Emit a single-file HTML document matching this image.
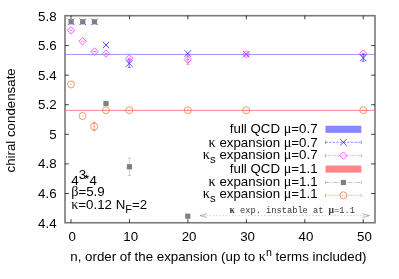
<!DOCTYPE html><html><head><meta charset="utf-8"><style>html,body{margin:0;padding:0;background:#fff;}svg{display:block;will-change:transform}text{font-family:"Liberation Sans",sans-serif;font-size:13.3px;fill:#000}.g{font-family:"Liberation Serif",serif;font-size:14.2px}.m{font-family:"Liberation Mono",monospace;font-size:8.7px}</style></head><body>
<svg width="399" height="279" viewBox="0 0 399 279">
<rect width="399" height="279" fill="#fff"/>
<line x1="65.0" x2="375.0" y1="54.42" y2="54.42" stroke="#9090ff" stroke-width="0.95"/>
<line x1="65.0" x2="375.0" y1="110.35" y2="110.35" stroke="#ff8585" stroke-width="1"/>
<rect x="65.0" y="15.7" width="310.0" height="207.05" fill="none" stroke="#787878" stroke-width="1.6"/>
<path d="M65.0 45.58h3.9M375.0 45.58h-3.9M65.0 75.16h3.9M375.0 75.16h-3.9M65.0 104.74h3.9M375.0 104.74h-3.9M65.0 134.31h3.9M375.0 134.31h-3.9M65.0 163.89h3.9M375.0 163.89h-3.9M65.0 193.47h3.9M375.0 193.47h-3.9M71.00 222.75v-3.6M71.00 15.7v3.6M129.45 222.75v-3.6M129.45 15.7v3.6M187.90 222.75v-3.6M187.90 15.7v3.6M246.35 222.75v-3.6M246.35 15.7v3.6M304.80 222.75v-3.6M304.80 15.7v3.6M363.25 222.75v-3.6M363.25 15.7v3.6" stroke="#000" stroke-width="0.75" fill="none"/>
<text x="56.6" y="20.55" text-anchor="end">5.8</text>
<text x="56.6" y="50.13" text-anchor="end">5.6</text>
<text x="56.6" y="79.71" text-anchor="end">5.4</text>
<text x="56.6" y="109.29" text-anchor="end">5.2</text>
<text x="56.6" y="138.86" text-anchor="end">5</text>
<text x="56.6" y="168.44" text-anchor="end">4.8</text>
<text x="56.6" y="198.02" text-anchor="end">4.6</text>
<text x="56.6" y="227.60" text-anchor="end">4.4</text>
<text x="72.20" y="241.3" text-anchor="middle">0</text>
<text x="130.65" y="241.3" text-anchor="middle">10</text>
<text x="189.10" y="241.3" text-anchor="middle">20</text>
<text x="247.55" y="241.3" text-anchor="middle">30</text>
<text x="306.00" y="241.3" text-anchor="middle">40</text>
<text x="364.45" y="241.3" text-anchor="middle">50</text>
<text x="70.3" y="261.1">n, order of the expansion (up to <tspan class="g">κ</tspan><tspan dy="-5.4" font-size="10.6px">n</tspan><tspan dy="5.4"> terms included)</tspan></text>
<text transform="translate(15.2,120.4) rotate(-90)" text-anchor="middle">chiral condensate</text>
<text x="71.2" y="184.5">4</text><text x="78.7" y="178.6" font-size="10.3px">3</text><text x="89.6" y="184.5">4</text>
<path d="M86.7 176.9L86.70 174.80M86.7 176.9L88.70 176.25M86.7 176.9L87.93 178.60M86.7 176.9L85.47 178.60M86.7 176.9L84.70 176.25" stroke="#000" stroke-width="1.0" fill="none"/>
<text x="71.2" y="196.1"><tspan class="g">β</tspan>=5.9</text>
<text x="71.2" y="208.6"><tspan class="g">κ</tspan>=0.12 N<tspan dy="4.2" font-size="11px">F</tspan><tspan dy="-4.2">=2</tspan></text>
<text x="317.6" y="132.9" text-anchor="end">full QCD <tspan class="g">μ</tspan>=0.7</text>
<text x="317.6" y="146.6" text-anchor="end"><tspan class="g">κ</tspan> expansion <tspan class="g">μ</tspan>=0.7</text>
<text x="317.6" y="158.75" text-anchor="end"><tspan class="g">κ</tspan><tspan dy="4.4" font-size="11.4px">s</tspan><tspan dy="-4.4"> expansion </tspan><tspan class="g">μ</tspan>=0.7</text>
<text x="317.6" y="172.7" text-anchor="end">full QCD <tspan class="g">μ</tspan>=1.1</text>
<text x="317.6" y="185.7" text-anchor="end"><tspan class="g">κ</tspan> expansion <tspan class="g">μ</tspan>=1.1</text>
<text x="317.6" y="197.5" text-anchor="end"><tspan class="g">κ</tspan><tspan dy="4.4" font-size="11.4px">s</tspan><tspan dy="-4.4"> expansion </tspan><tspan class="g">μ</tspan>=1.1</text>
<rect x="325.5" y="125.75" width="35.80000000000001" height="7.1" fill="#8787ff"/>
<rect x="325.5" y="165.55" width="35.80000000000001" height="7.1" fill="#ff8787"/>
<path d="M325.5 142.3H361.3" stroke="#2020ff" stroke-width="0.6" stroke-dasharray="2.4 1.2" fill="none" opacity="0.85"/><path d="M325.5 140.70000000000002v3.2M361.3 140.70000000000002v3.2" stroke="#2020ff" stroke-width="0.6" fill="none" opacity="0.85"/>
<path d="M340.15 139.05L346.65 145.55M340.15 145.55L346.65 139.05" stroke="#2020ff" stroke-width="0.8" fill="none"/>
<path d="M325.5 155.6H361.3" stroke="#ff30ff" stroke-width="0.6" stroke-dasharray="1.2 1.2" fill="none" opacity="0.85"/><path d="M325.5 154.0v3.2M361.3 154.0v3.2" stroke="#ff30ff" stroke-width="0.6" fill="none" opacity="0.85"/>
<path d="M343.4 151.95L347.04999999999995 155.6L343.4 159.25L339.75 155.6Z" stroke="#ff30ff" stroke-width="0.8" fill="none"/>
<path d="M325.5 182.5H361.3" stroke="#808080" stroke-width="0.6" stroke-dasharray="4 1.3 1 1.3" fill="none" opacity="0.85"/><path d="M325.5 180.9v3.2M361.3 180.9v3.2" stroke="#808080" stroke-width="0.6" fill="none" opacity="0.85"/>
<rect x="340.79999999999995" y="179.9" width="5.2" height="5.2" fill="#808080"/>
<path d="M325.5 195.3H361.3" stroke="#ff6a30" stroke-width="0.6" stroke-dasharray="1.6 1.2" fill="none" opacity="0.85"/><path d="M325.5 193.70000000000002v3.2M361.3 193.70000000000002v3.2" stroke="#ff6a30" stroke-width="0.6" fill="none" opacity="0.85"/>
<circle cx="343.4" cy="195.3" r="3.5" stroke="#ff6a30" stroke-width="0.72" fill="none"/>
<path d="M129.2 59.5V67.5M127.69999999999999 59.5h3.0M127.69999999999999 67.5h3.0" stroke="#2020ff" stroke-width="0.6" fill="none" opacity="1"/>
<path d="M363.3 54.7V61.3M361.8 54.7h3.0M361.8 61.3h3.0" stroke="#2020ff" stroke-width="0.6" fill="none" opacity="1"/>
<path d="M67.85 18.55L74.35 25.05M67.85 25.05L74.35 18.55" stroke="#2020ff" stroke-width="0.8" fill="none"/>
<path d="M79.5 18.55L86.0 25.05M79.5 25.05L86.0 18.55" stroke="#2020ff" stroke-width="0.8" fill="none"/>
<path d="M91.25 18.55L97.75 25.05M91.25 25.05L97.75 18.55" stroke="#2020ff" stroke-width="0.8" fill="none"/>
<path d="M102.75 41.75L109.25 48.25M102.75 48.25L109.25 41.75" stroke="#2020ff" stroke-width="0.8" fill="none"/>
<path d="M125.94999999999999 60.25L132.45 66.75M125.94999999999999 66.75L132.45 60.25" stroke="#2020ff" stroke-width="0.8" fill="none"/>
<path d="M184.55 50.25L191.05 56.75M184.55 56.75L191.05 50.25" stroke="#2020ff" stroke-width="0.8" fill="none"/>
<path d="M242.95 51.05L249.45 57.55M242.95 57.55L249.45 51.05" stroke="#2020ff" stroke-width="0.8" fill="none"/>
<path d="M360.05 54.75L366.55 61.25M360.05 61.25L366.55 54.75" stroke="#2020ff" stroke-width="0.8" fill="none"/>
<path d="M187.8 55V64.3M186.3 55h3.0M186.3 64.3h3.0" stroke="#ff30ff" stroke-width="0.6" fill="none" opacity="1"/>
<path d="M71 26.6L74.65 30.25L71 33.9L67.35 30.25Z" stroke="#ff30ff" stroke-width="0.8" fill="none"/>
<path d="M82.6 37.6L86.25 41.25L82.6 44.9L78.94999999999999 41.25Z" stroke="#ff30ff" stroke-width="0.8" fill="none"/>
<path d="M94.6 47.85L98.25 51.5L94.6 55.15L90.94999999999999 51.5Z" stroke="#ff30ff" stroke-width="0.8" fill="none"/>
<path d="M106 49.95L109.65 53.6L106 57.25L102.35 53.6Z" stroke="#ff30ff" stroke-width="0.8" fill="none"/>
<path d="M129.2 54.65L132.85 58.3L129.2 61.949999999999996L125.54999999999998 58.3Z" stroke="#ff30ff" stroke-width="0.8" fill="none"/>
<path d="M187.8 55.95L191.45000000000002 59.6L187.8 63.25L184.15 59.6Z" stroke="#ff30ff" stroke-width="0.8" fill="none"/>
<path d="M246.2 50.65L249.85 54.3L246.2 57.949999999999996L242.54999999999998 54.3Z" stroke="#ff30ff" stroke-width="0.8" fill="none"/>
<path d="M363.3 49.85L366.95 53.5L363.3 57.15L359.65000000000003 53.5Z" stroke="#ff30ff" stroke-width="0.8" fill="none"/>
<path d="M69.5 30.25h3" stroke="#ff30ff" stroke-width="0.7"/>
<path d="M81.1 41.25h3" stroke="#ff30ff" stroke-width="0.7"/>
<path d="M93.1 51.5h3" stroke="#ff30ff" stroke-width="0.7"/>
<path d="M104.5 53.6h3" stroke="#ff30ff" stroke-width="0.7"/>
<path d="M127.69999999999999 58.3h3" stroke="#ff30ff" stroke-width="0.7"/>
<path d="M186.3 59.6h3" stroke="#ff30ff" stroke-width="0.7"/>
<path d="M244.7 54.3h3" stroke="#ff30ff" stroke-width="0.7"/>
<path d="M361.8 53.5h3" stroke="#ff30ff" stroke-width="0.7"/>
<path d="M129.4 158V175.5M127.9 158h3.0M127.9 175.5h3.0" stroke="#808080" stroke-width="0.6" fill="none" opacity="0.6"/>
<rect x="68.5" y="19.2" width="5.2" height="5.2" fill="#808080"/>
<rect x="80.15" y="19.2" width="5.2" height="5.2" fill="#808080"/>
<rect x="91.9" y="19.2" width="5.2" height="5.2" fill="#808080"/>
<rect x="103.4" y="100.9" width="5.2" height="5.2" fill="#808080"/>
<rect x="126.80000000000001" y="164.15" width="5.2" height="5.2" fill="#808080"/>
<rect x="185.20000000000002" y="213.6" width="5.2" height="5.2" fill="#808080"/>
<path d="M94.2 122.2V130.8M92.7 122.2h3.0M92.7 130.8h3.0" stroke="#ff6a30" stroke-width="0.6" fill="none" opacity="1"/>
<circle cx="71" cy="84.4" r="3.5" stroke="#ff6a30" stroke-width="0.72" fill="none"/>
<circle cx="82.6" cy="116" r="3.5" stroke="#ff6a30" stroke-width="0.72" fill="none"/>
<circle cx="94.2" cy="126.5" r="3.5" stroke="#ff6a30" stroke-width="0.72" fill="none"/>
<circle cx="106" cy="110.2" r="3.5" stroke="#ff6a30" stroke-width="0.72" fill="none"/>
<circle cx="129.2" cy="110.2" r="3.5" stroke="#ff6a30" stroke-width="0.72" fill="none"/>
<circle cx="187.8" cy="110.2" r="3.5" stroke="#ff6a30" stroke-width="0.72" fill="none"/>
<circle cx="246.2" cy="110.2" r="3.5" stroke="#ff6a30" stroke-width="0.72" fill="none"/>
<circle cx="363.3" cy="110.2" r="3.5" stroke="#ff6a30" stroke-width="0.72" fill="none"/>
<path d="M70 84.4h2" stroke="#ff6a30" stroke-width="0.6" opacity="0.8"/>
<path d="M81.6 116h2" stroke="#ff6a30" stroke-width="0.6" opacity="0.8"/>
<path d="M93.2 126.5h2" stroke="#ff6a30" stroke-width="0.6" opacity="0.8"/>
<path d="M105 110.2h2" stroke="#ff6a30" stroke-width="0.6" opacity="0.8"/>
<path d="M128.2 110.2h2" stroke="#ff6a30" stroke-width="0.6" opacity="0.8"/>
<path d="M186.8 110.2h2" stroke="#ff6a30" stroke-width="0.6" opacity="0.8"/>
<path d="M245.2 110.2h2" stroke="#ff6a30" stroke-width="0.6" opacity="0.8"/>
<path d="M362.3 110.2h2" stroke="#ff6a30" stroke-width="0.6" opacity="0.8"/>
<path d="M200 215.6H369.5" stroke="#b0b0b0" stroke-width="0.6" stroke-dasharray="1.4 1.8" fill="none"/>
<path d="M207 213.7L199.9 215.6L207 217.5M362.4 213.7L369.5 215.6L362.4 217.5" stroke="#8a8a8a" stroke-width="0.6" fill="none"/>
<text class="m" y="212.6" style="fill:#383838"><tspan x="229.5" style="font-family:'Liberation Serif',serif;font-size:9.6px;font-weight:bold">κ</tspan><tspan x="240.04">exp. instable at</tspan><tspan x="328.6" style="font-family:'Liberation Serif',serif;font-size:9.6px;font-weight:bold">μ</tspan><tspan x="334.0">=1.1</tspan></text>
</svg></body></html>
